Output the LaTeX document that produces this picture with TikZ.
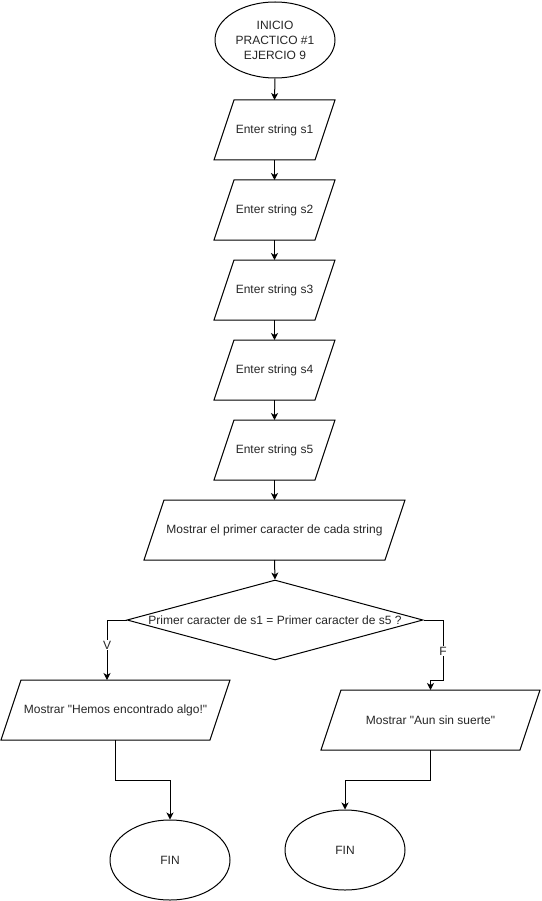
\documentclass[tikz,border=0pt]{standalone}
\usepackage{fontspec}
\setmainfont{Liberation Sans}
\usetikzlibrary{shapes.geometric,arrows.meta,calc}
\newcommand\iobox[1]{\draw ($(#1.north west)+(10,0)$) -- ($(#1.north east)+(10,0)$) -- ($(#1.south east)+(-10,0)$) -- ($(#1.south west)+(-10,0)$) -- cycle;}
\begin{document}
\begin{tikzpicture}[x=1pt,y=-1pt, line width=1pt,
 every node/.style={font=\fontsize{12}{15}\selectfont, text=black!85},
 term/.style={draw, ellipse, minimum width=120pt, minimum height=80pt, inner sep=0pt, align=center, fill=white},
 io/.style={rectangle, minimum width=#1, minimum height=60pt, inner sep=0pt, outer sep=0pt},
 dec/.style={draw, diamond, minimum width=296pt, minimum height=80pt, inner sep=0pt, fill=white},
 arr/.style={-{Stealth[length=7pt,width=7pt,inset=2pt]}},
 lab/.style={fill=white, inner sep=1pt}]
\useasboundingbox (0,0) rectangle (541,901);

\node[term, minimum height=76pt] (start) at (275,40) {INICIO\\PRACTICO \#1\\EJERCIO 9};
\node[io=101pt] (s1) at (274.5,130) {Enter string s1};
\node[io=101pt] (s2) at (274.5,210) {Enter string s2};
\node[io=101pt] (s3) at (274.5,290) {Enter string s3};
\node[io=101pt] (s4) at (274.5,370) {Enter string s4};
\node[io=101pt] (s5) at (274.5,450) {Enter string s5};
\node[io=241pt] (m) at (274.5,530) {Mostrar el primer caracter de cada string};
\node[dec] (d) at (275,620) {\makebox[0pt]{Primer caracter de s1 = Primer caracter de s5 ?}};
\node[io=209pt] (hv) at (115.5,710) {Mostrar \textquotedbl Hemos encontrado algo!\textquotedbl};
\node[io=199pt] (hf) at (430.5,720) {Mostrar \textquotedbl Aun sin suerte\textquotedbl};
\node[term] (fin1) at (170,860) {FIN};
\node[term] (fin2) at (345,850) {FIN};

\iobox{s1}\iobox{s2}\iobox{s3}\iobox{s4}\iobox{s5}\iobox{m}\iobox{hv}\iobox{hf}

\coordinate (vl) at (107,620);
\coordinate (fr1) at (443,620);
\coordinate (fr2) at (443,680);

\draw[arr] (start.south) -- (s1.north);
\draw[arr] (s1.south) -- (s2.north);
\draw[arr] (s2.south) -- (s3.north);
\draw[arr] (s3.south) -- (s4.north);
\draw[arr] (s4.south) -- (s5.north);
\draw[arr] (s5.south) -- (m.north);
\draw[arr] (m.south) -- (d.north);
\draw[arr] (d.west) -- (vl) -- (vl |- hv.north);
\draw[arr] (d.east) -- (fr1) -- (fr2) -| (hf.north);
\draw[arr] (hv.south) -- ++(0,40) -| (fin1.north);
\draw[arr] (hf.south) -- ++(0,30) -| (fin2.north);

\node[lab] (lv) at (107,645) {V};
\node[lab] (lf) at (443,651) {F};
\end{tikzpicture}
\end{document}
